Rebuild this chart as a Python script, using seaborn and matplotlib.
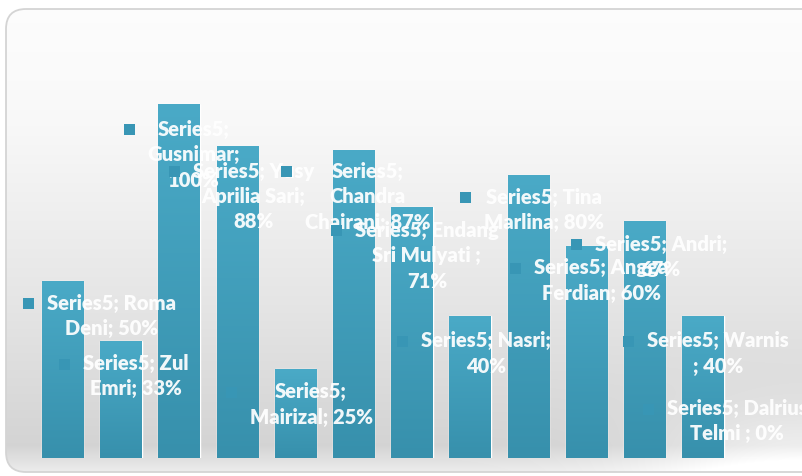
import numpy as np
import matplotlib
matplotlib.use("Agg")
import matplotlib.pyplot as plt
import seaborn as sns
import pandas as pd
from matplotlib.patches import FancyBboxPatch, Rectangle
from matplotlib.colors import LinearSegmentedColormap

# ---------------- data ----------------
series_name = "Series5"
names = ["Roma Deni", "Zul Emri", "Gusnimar", "Yusy Aprilia Sari", "Mairizal",
         "Chandra Chairani", "Endang Sri Mulyati", "Nasri", "Tina Marlina",
         "Angga Ferdian", "Andri", "Warnis", "Dalrius Telmi"]
values = [0.50, 0.33, 1.00, 0.88, 0.25, 0.87, 0.71, 0.40, 0.80, 0.60, 0.67, 0.40, 0.00]
label_texts = [
    "Series5; Roma\nDeni; 50%",
    "Series5; Zul\nEmri; 33%",
    "Series5;\nGusnimar;\n100%",
    "Series5; Yusy\nAprilia Sari;\n88%",
    "Series5;\nMairizal; 25%",
    "Series5;\nChandra\nChairani; 87%",
    "Series5; Endang\nSri Mulyati ;\n71%",
    "Series5; Nasri;\n40%",
    "Series5; Tina\nMarlina; 80%",
    "Series5; Angga\nFerdian; 60%",
    "Series5; Andri;\n67%",
    "Series5; Warnis\n; 40%",
    "Series5; Dalrius\nTelmi ; 0%",
]

# ---------------- layout (pixels) ----------------
label_dx_px = [49, 15, 15, 16, 15.5, 14, 15, 16, 16, 14.5, 16, 15, -24]
label_dy_px = [-23, -23, -26, -25, -23, -22, -24, -25, -23, -23, -24, -25, 49]

W, H = 803, 476
DPI = 100
sns.set_theme(style="white")
plt.rcParams['font.family'] = ['Lato', 'DejaVu Sans']

fig = plt.figure(figsize=(W / DPI, H / DPI), dpi=DPI)
fig.patch.set_facecolor("white")

# background panel with gradient, clipped to rounded rect
bg = fig.add_axes([0, 0, 1, 1])
bg.set_xlim(0, W)
bg.set_ylim(H, 0)
bg.axis("off")
rows = np.arange(H)
ys = [0, 9, 120, 300, 445, 472, 476]
gs = [1.0, 0.99, 0.975, 0.9, 0.83, 0.93, 1.0]
g = np.interp(rows, ys, gs)
img = np.repeat(g[:, None], W, axis=1)
xx, yy = np.meshgrid(np.arange(W), rows)
glow = np.exp(-(((xx - 800) / 150.0) ** 2 + ((yy - 470) / 60.0) ** 2))
img = np.clip(img + 0.12 * glow, 0, 1)
rgb = np.dstack([img, img, img])
panel = FancyBboxPatch((6, 9), 830, 463, boxstyle="round,pad=0,rounding_size=20",
                       facecolor="none", edgecolor="#d4d4d4", linewidth=1.3, zorder=3)
bg.add_patch(panel)
im = bg.imshow(rgb, extent=(0, W, H, 0), aspect="auto", zorder=1)
im.set_clip_path(panel)
bg.set_xlim(0, W)
bg.set_ylim(H, 0)

# main axes
left = 33.6 / W
width = 756.6 / W
bottom = 18 / H
height = 425 / H
ax = fig.add_axes([left, bottom, width, height])
ax.set_facecolor("none")
df = pd.DataFrame({"name": names, "value": values})
sns.barplot(data=df, x="name", y="value", color="#43a2bf", width=0.71,
            saturation=1, ax=ax, order=names)
ax.set_xlim(-0.5, len(names) - 0.5)
ax.set_ylim(0, 1.2)
ax.axis("off")

cmap_bar = LinearSegmentedColormap.from_list("bar", ["#3790ac", "#4aaac7"])
grad = np.linspace(0, 1, 256).reshape(-1, 1)
for p in list(ax.patches):
    x0, y0 = p.get_x(), p.get_y()
    w, h = p.get_width(), p.get_height()
    if h <= 0:
        continue
    bim = ax.imshow(grad, cmap=cmap_bar, origin="lower",
                    extent=(x0, x0 + w, y0, y0 + h), aspect="auto",
                    zorder=p.get_zorder() + 0.1)
    bim.set_clip_path(p)
ax.set_xlim(-0.5, len(names) - 0.5)
ax.set_ylim(0, 1.2)

fig.canvas.draw()
renderer = fig.canvas.get_renderer()
inv = ax.transData.inverted()
KEY = 11
for i, (txt, v) in enumerate(zip(label_texts, values)):
    bx, by = ax.transData.transform((i, v))
    tx = bx + label_dx_px[i]
    ty = by + label_dy_px[i]  # target center of first line (display coords)
    dx_, dy_ = inv.transform((tx, ty))
    t = ax.text(dx_, dy_, txt, ha="center", va="top", multialignment="center",
                fontsize=14.5, fontweight="heavy", color="white", alpha=0.93,
                linespacing=1.4, zorder=11 + 2 * i, clip_on=False)
    bb = t.get_window_extent(renderer)
    n = txt.count("\n") + 1
    lh = 26.0
    first_h = bb.height - lh * (n - 1)
    cur = bb.y1 - first_h * 0.55
    shift = ty - cur
    t.set_position(inv.transform((tx, ty + shift)))
    bb = t.get_window_extent(renderer)
    kx1 = bb.x0 - 13
    kx0 = kx1 - KEY
    p0 = inv.transform((kx0, ty - KEY / 2))
    p1 = inv.transform((kx1, ty + KEY / 2))
    ax.add_patch(Rectangle(p0, p1[0] - p0[0], p1[1] - p0[1], facecolor="#3896b5",
                           edgecolor="none", zorder=10 + 2 * i, clip_on=False))

fig.savefig("out.png", dpi=DPI)
